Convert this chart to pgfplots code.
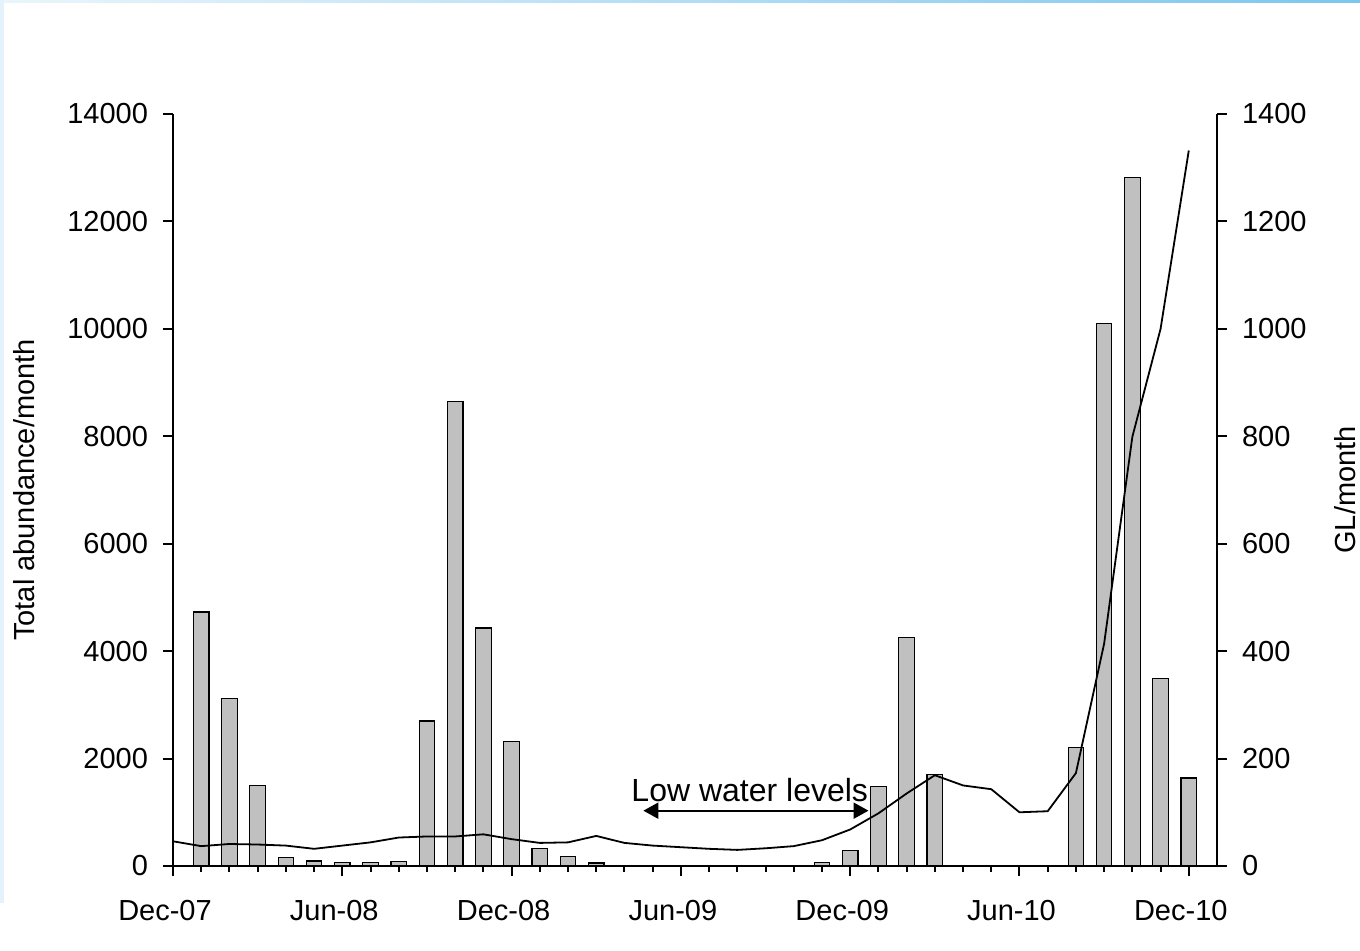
\documentclass[border=0pt]{standalone}
\usepackage{fontspec}
\setmainfont{Liberation Sans}
\usepackage{pgfplots}
\usepackage{pgfplotstable}
\pgfplotsset{compat=1.18}
\usetikzlibrary{arrows.meta}
\definecolor{barg}{HTML}{C0C0C0}
\definecolor{edgeL}{HTML}{EAF5FC}
\definecolor{edgeR}{HTML}{7CC6EE}
\definecolor{edgeV}{HTML}{E3F2FB}

\pgfplotstableread{
x y
1 4730
2 3120
3 1500
4 160
5 95
6 62
7 62
8 80
9 2700
10 8650
11 4430
12 2320
13 330
14 180
15 56
23 62
24 290
25 1480
26 4250
27 1710
32 2210
33 10100
34 12820
35 3490
36 1640
}\bars

\pgfplotstableread{
x y
0 46
1 37
2 41
3 40
4 38
5 32
6 38
7 44
8 53
9 55
10 55
11 59
12 50
13 43
14 44
15 56
16 43
17 38
18 35
19 32
20 30
21 33
22 37
23 48
24 68
25 98
26 135
27 169
28 150
29 143
30 100
31 102
32 173
33 414
34 799
35 1000
36 1332
}\flow

\pgfplotsset{
  common/.style={
    at={(86.5pt,42pt)}, anchor=south west,
    scale only axis, width=522pt, height=376pt,
    xmin=0, xmax=37,
    axis line style={line width=1pt,-},
    tick align=outside,
    major tick length=5pt, minor tick length=3pt,
    tick style={line width=1pt,black},
    scaled y ticks=false,
    /pgf/number format/assume math mode=true,
    /pgf/number format/1000 sep={},
    ticklabel style={font=\fontsize{14.5}{17}\selectfont},
    label style={font=\fontsize{14.5}{17}\selectfont},
  }
}

\begin{document}
\begin{tikzpicture}[x=1pt,y=1pt]
\useasboundingbox (0,0) rectangle (680,475);
\shade[left color=edgeL, right color=edgeR] (0,473.5) rectangle (680,475);
\fill[edgeV] (0,23.5) rectangle (2,475);

\begin{axis}[common,
  ymin=0, ymax=14000,
  axis x line*=bottom, axis y line*=left,
  xtick={0,6,...,36},
  xticklabels={Dec-07,Jun-08,Dec-08,Jun-09,Dec-09,Jun-10,Dec-10},
  minor xtick={1,...,36},
  xticklabel style={yshift=-8.5pt, xshift=-4pt},
  ytick={0,2000,...,14000},
  yticklabel style={xshift=-4pt},
  ylabel={Total abundance/month},
  ylabel style={at={(axis description cs:-0.1331,0.5)}, anchor=base, inner sep=0pt},
]
\addplot[ybar, bar width=7.75pt, fill=barg, draw=black, line width=0.6pt] table[x=x,y=y] {\bars};
\draw[line width=1pt, {Triangle[length=7.5pt,width=8pt]}-{Triangle[length=7.5pt,width=8pt]}]
  (axis cs:16.67,1030) -- (axis cs:24.65,1030);
\node[anchor=base, font=\fontsize{16}{19}\selectfont, inner sep=0pt] at (axis cs:20.44,1197) {Low water levels};
\end{axis}

\begin{axis}[common,
  ymin=0, ymax=1400,
  axis x line=none, axis y line*=right,
  ytick={0,200,...,1400},
  yticklabel style={xshift=4pt},
  ylabel={GL/month},
  ylabel style={at={(axis description cs:1.1330,0.5)}, anchor=base, inner sep=0pt},
]
\addplot[black, line width=0.9pt, mark=none] table[x=x,y=y] {\flow};
\end{axis}
\end{tikzpicture}
\end{document}
